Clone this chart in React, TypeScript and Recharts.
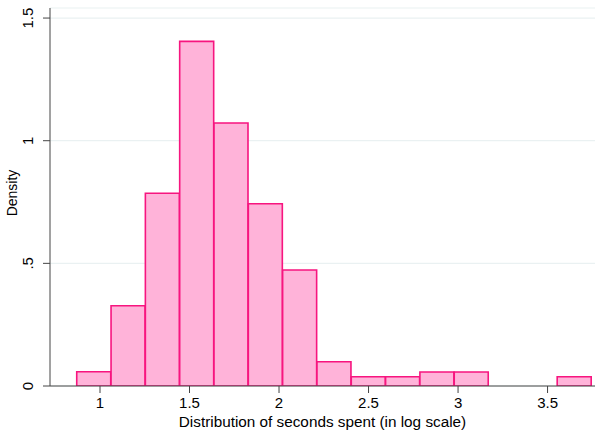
import React from 'react';
import { ComposedChart, Bar, XAxis, YAxis, CartesianGrid } from 'recharts';

// histogram of log seconds: 15 bins
const binStart = 0.87;
const binWidth = 0.1917;
const densities = [0.058, 0.327, 0.786, 1.405, 1.072, 0.743, 0.473, 0.099, 0.038, 0.038, 0.057, 0.057, 0, 0, 0.038];
const xTicks = [1, 1.5, 2, 2.5, 3, 3.5];
const yTicks = [0, 0.5, 1, 1.5];

const data = densities.map((d, i) => ({
  mid: binStart + binWidth * (i + 0.5),
  density: d,
}));

const font = 'Liberation Sans, Arial, sans-serif';
const fmtY = (v: number) => (v === 0.5 ? '.5' : String(v));

const YTick = (props: any) => {
  const { x, y, payload } = props;
  const tx = x - 8;
  return (
    <text
      x={tx}
      y={y}
      transform={`rotate(-90, ${tx}, ${y})`}
      textAnchor="middle"
      fontSize={15}
      fill="#000"
      fontFamily={font}
    >
      {fmtY(payload.value)}
    </text>
  );
};

const DensityLabel = (props: any) => {
  const vb = props.viewBox || {};
  const cy = (vb.y ?? 8) + (vb.height ?? 378) / 2 - 4;
  const cx = 17;
  return (
    <text
      x={cx}
      y={cy}
      transform={`rotate(-90, ${cx}, ${cy})`}
      textAnchor="middle"
      fontSize={14}
      fill="#000"
      fontFamily={font}
    >
      Density
    </text>
  );
};

export default function App() {
  return (
    <div style={{ position: 'absolute', left: 0, top: 0, width: 595, height: 435, background: '#fff' }}>
      <ComposedChart
        width={595}
        height={435}
        data={data}
        margin={{ top: 8, right: 0, left: 0, bottom: 0 }}
        barCategoryGap={0}
        barGap={0}
      >
        <CartesianGrid horizontal vertical={false} stroke="#eaf1f2" strokeWidth={1.2} />
        <XAxis
          dataKey="mid"
          type="number"
          domain={[0.7207, 3.765]}
          ticks={xTicks}
          allowDataOverflow
          height={49}
          stroke="#444"
          tickSize={7}
          tickMargin={4}
          tick={{ fontSize: 15, fill: '#000', fontFamily: font }}
          label={{
            value: 'Distribution of seconds spent (in log scale)',
            position: 'insideBottom',
            offset: 8,
            fontSize: 15.3,
            fill: '#000',
            fontFamily: font,
          }}
        />
        <YAxis
          type="number"
          domain={[0, 1.541]}
          ticks={yTicks}
          allowDataOverflow
          width={50}
          stroke="#444"
          tickSize={7}
          tick={<YTick />}
          label={<DensityLabel />}
        />
        <Bar dataKey="density" fill="#ffb3d9" stroke="#f7157f" strokeWidth={1.6} isAnimationActive={false} />
      </ComposedChart>
    </div>
  );
}
